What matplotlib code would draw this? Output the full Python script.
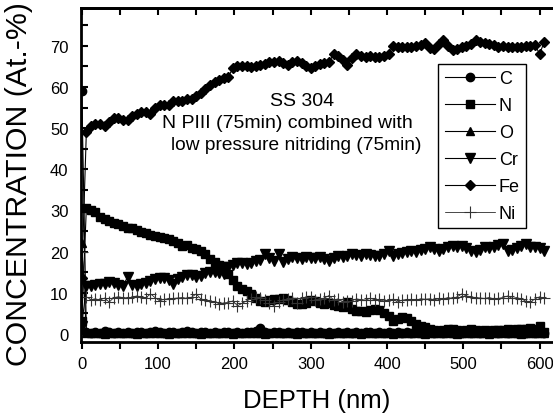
import matplotlib
matplotlib.use("Agg")
import matplotlib.pyplot as plt
from matplotlib.ticker import MultipleLocator

plt.rcParams['font.family'] = ['Liberation Sans', 'DejaVu Sans']

depth = [0, 6, 12, 18, 24, 30, 36, 42, 48, 54,
         60, 66, 72, 78, 84, 90, 96, 102, 108, 114,
         120, 126, 132, 138, 144, 150, 156, 162, 168, 174,
         180, 186, 192, 198, 204, 210, 216, 222, 228, 234,
         240, 246, 252, 258, 264, 270, 276, 282, 288, 294,
         300, 306, 312, 318, 324, 330, 336, 342, 348, 354,
         360, 366, 372, 378, 384, 390, 396, 402, 408, 414,
         420, 426, 432, 438, 444, 450, 456, 462, 468, 474,
         480, 486, 492, 498, 504, 510, 516, 522, 528, 534,
         540, 546, 552, 558, 564, 570, 576, 582, 588, 594,
         600, 606]

c_vals = [59, 0.5, 0.3, 0.4, 0.3, 0.6, 0.4, 0.3, 0.5, 0.3,
          0.4, 0.3, 0.5, 0.4, 0.3, 0.4, 0.6, 0.4, 0.3, 0.4,
          0.5, 0.3, 0.4, 0.7, 0.4, 0.3, 0.4, 0.5, 0.3, 0.4,
          0.3, 0.4, 0.5, 0.3, 0.4, 0.3, 0.5, 0.4, 0.6, 1.4,
          0.4, 0.3, 0.4, 0.5, 0.3, 0.4, 0.3, 0.4, 0.5, 0.3,
          0.4, 0.3, 0.4, 0.3, 0.5, 0.3, 0.4, 0.3, 0.4, 0.3,
          0.4, 0.3, 0.4, 0.5, 0.3, 0.4, 0.3, 0.4, 0.3, 0.4,
          0.3, 0.4, 0.3, 0.4, 0.3, 0.4, 0.5, 0.3, 0.4, 0.3,
          0.4, 0.3, 0.4, 0.3, 0.4, 0.3, 0.4, 0.3, 0.4, 0.3,
          0.4, 0.3, 0.4, 0.3, 0.4, 0.3, 0.4, 0.3, 0.4, 0.3,
          0.4, 0.3]

n_vals = [3, 30.5, 30, 29.5, 28.5, 27.8, 27.5, 27, 26.6, 26.2,
          25.8, 25.6, 25.2, 24.8, 24.5, 24, 23.8, 23.5, 23.2, 23,
          22.5, 22, 21.3, 21.5, 20.8, 20.5, 20.1, 19.5, 18.2, 17.5,
          16.8, 16.5, 14.5, 13, 11.5, 10.8, 10.3, 9.6, 8.8, 8,
          7.7, 8.2, 8.5, 8.4, 8.8, 8.3, 7.8, 7.3, 7.2, 7.6,
          8.2, 7.9, 7.5, 7.3, 7.5, 7, 6.8, 6.5, 7.7, 6,
          5.6, 5.5, 5.3, 5.7, 6, 5.9, 5, 4.3, 3.2, 3.5,
          4.1, 3.8, 3, 2.4, 2, 1.7, 1.2, 1, 0.7, 0.8,
          1.2, 1.2, 0.8, 0.7, 0.8, 1.2, 0.8, 0.7, 0.8, 0.7,
          0.8, 0.9, 1, 1.2, 1, 1.2, 1.1, 1.2, 1.3, 1.2,
          2, 0.5]

o_vals = [22, 0.2, 0.1, 0.2, 0.1, 0.0, 0.1, 0.2, 0.1, 0.1,
          0.2, 0.1, 0.0, 0.1, 0.2, 0.1, 0.1, 0.2, 0.1, 0.0,
          0.1, 0.2, 0.1, 0.1, 0.2, 0.1, 0.0, 0.1, 0.2, 0.1,
          0.1, 0.2, 0.1, 0.0, 0.1, 0.2, 0.1, 0.1, 0.2, 0.1,
          0.0, 0.1, 0.2, 0.1, 0.1, 0.2, 0.1, 0.0, 0.1, 0.2,
          0.1, 0.1, 0.2, 0.1, 0.0, 0.1, 0.2, 0.1, 0.1, 0.2,
          0.1, 0.0, 0.1, 0.2, 0.1, 0.1, 0.2, 0.1, 0.0, 0.1,
          0.2, 0.1, 0.1, 0.2, 0.1, 0.0, 0.1, 0.2, 0.1, 0.1,
          0.2, 0.1, 0.0, 0.1, 0.2, 0.1, 0.1, 0.2, 0.1, 0.0,
          0.1, 0.2, 0.1, 0.1, 0.2, 0.1, 0.0, 0.1, 0.2, 0.1,
          0.1, 0.2]

cr_vals = [2, 11.5, 11.6, 11.8, 12, 12.2, 12.5, 12.4, 11.8, 11.6,
           13.8, 11.8, 11.6, 12, 12.4, 12.8, 13.2, 13.6, 13.5, 13,
           12.2, 13.2, 13.8, 14.2, 14.3, 13.8, 14, 14.8, 15, 14.9,
           14.8, 14.6, 16.3, 16.8, 17.3, 17.2, 17, 17.3, 17.7, 18,
           19.3, 18.5, 17.7, 19.4, 17.4, 18.2, 18.6, 18.4, 18.2, 18.6,
           18.4, 18.5, 18.6, 18.3, 17.8, 18.5, 18.9, 18.6, 18.8, 19.4,
           19.2, 19, 19.3, 19.2, 19, 18.9, 19.4, 20.1, 18.9, 19.4,
           19.6, 19.8, 20.1, 20, 20.3, 20.6, 21, 20.5, 20.1, 20.6,
           21, 21.3, 21.2, 21.3, 20.8, 20.1, 19.9, 20.4, 21, 20.8,
           21, 21.5, 21.8, 20.1, 20.4, 20.8, 21.4, 21.8, 21.2, 21,
           20.8, 20.1]

fe_vals = [13.5, 49, 50.5, 51, 51, 50.5, 51.5, 52.5, 52.5, 52,
           52, 53, 53.5, 54, 54, 53.5, 55, 55.5, 55.7, 55.5,
           56.5, 56.5, 56.7, 57, 57, 57.7, 58.5, 59.5, 60.5, 61.3,
           61.7, 62.2, 62.5, 64.5, 65, 65, 65, 64.8, 65, 65.3,
           65.5, 66, 66, 66.2, 65.8, 65.4, 66, 66.4, 65.8, 65.2,
           64.6, 65.2, 65.5, 65.8, 66, 68, 67.5, 66.5, 65.4, 67,
           68, 67.6, 67.4, 67.5, 67.3, 67.4, 67.5, 68, 70, 69.8,
           69.6, 69.7, 69.8, 70, 70.3, 70.7, 69.5, 69.2, 70.5, 71.3,
           70, 69, 69.3, 69.6, 70, 70.5, 71.4, 71, 70.6, 70.4,
           70.2, 69.8, 70, 69.8, 69.8, 69.7, 69.8, 70, 70, 70.2,
           68, 71]

ni_vals = [20, 9, 8.3, 8.5, 8.2, 8.7, 7.7, 8.8, 9, 8.8,
           8.7, 8.9, 9.2, 9, 8.7, 9.7, 8.8, 8, 8.4, 8.5,
           8.6, 8.7, 8.8, 8.6, 8.9, 9.7, 8.5, 8.2, 8, 7.8,
           7.3, 7.5, 7.6, 8, 6.8, 7.4, 8, 8.5, 9, 8.6,
           8.2, 7.5, 6.8, 7.8, 8.3, 8.5, 8.7, 7.4, 8.6, 9,
           9, 8.3, 8.5, 8.7, 9.3, 8.2, 8.5, 7.8, 8, 8,
           8.5, 8.3, 8.2, 8.6, 8.3, 8.4, 7.9, 8.3, 8.4, 7.7,
           8.2, 8.3, 8.4, 8.2, 8.5, 8.4, 8.5, 8.3, 8.6, 8.5,
           8.8, 8.6, 9, 9.7, 9.2, 9, 8.8, 8.7, 8.6, 8.8,
           8.5, 8.6, 8.8, 9.2, 8.6, 8.8, 8.5, 7.9, 7.7, 8.5,
           9, 8.6]

labels = ['C', 'N', 'O', 'Cr', 'Fe', 'Ni']
annot_lines = ['SS 304', 'N PIII (75min) combined with',
               'low pressure nitriding (75min)']

fig = plt.figure(figsize=(5.53, 4.14), dpi=100)
ax = fig.add_axes([81/553, 71/414, 472/553, 334/414])

lw = 0.8
ax.plot(depth, c_vals, color='black', lw=lw, marker='o', ms=6, label=labels[0])
ax.plot(depth, n_vals, color='black', lw=lw, marker='s', ms=6, label=labels[1])
ax.plot(depth, o_vals, color='black', lw=lw, marker='^', ms=6, label=labels[2])
ax.plot(depth, cr_vals, color='black', lw=lw, marker='v', ms=7, label=labels[3])
ax.plot(depth, fe_vals, color='black', lw=lw, marker='D', ms=5.5, label=labels[4])
ax.plot(depth, ni_vals, color='black', lw=0.5, marker='+', ms=8, mew=0.8,
        mec='#333333', label=labels[5])

ax.set_xlim(-1, 617.5)
ax.set_ylim(-2, 79.2)
ax.xaxis.set_major_locator(MultipleLocator(100))
ax.xaxis.set_minor_locator(MultipleLocator(50))
ax.yaxis.set_major_locator(MultipleLocator(10))
ax.yaxis.set_minor_locator(MultipleLocator(5))

for s in ax.spines.values():
    s.set_linewidth(2)
ax.spines['right'].set_visible(False)

ax.tick_params(axis='x', which='both', direction='out', top=False, labelsize=12,
               width=1.5, length=5, pad=5)
ax.tick_params(axis='y', which='both', direction='in', right=False, labelsize=12,
               width=1.5, length=5, pad=9)

top = ax.secondary_xaxis('top')
top.xaxis.set_major_locator(MultipleLocator(100))
top.xaxis.set_minor_locator(MultipleLocator(50))
top.tick_params(axis='x', which='both', direction='in', width=1.5, length=5,
                labeltop=False)
top.spines['top'].set_linewidth(2)

ax.set_xlabel('DEPTH (nm)', fontsize=18.5, labelpad=12)
ax.set_ylabel('CONCENTRATION (At.-%)', fontsize=21.8)
ax.yaxis.set_label_coords(-0.102, 0.476)

ax.text(0.468, 0.722, annot_lines[0], transform=ax.transAxes, ha='center',
        va='center', fontsize=14)
ax.text(0.438, 0.656, annot_lines[1], transform=ax.transAxes, ha='center',
        va='center', fontsize=14)
ax.text(0.455, 0.590, annot_lines[2], transform=ax.transAxes, ha='center',
        va='center', fontsize=13.8)

leg = ax.legend(loc='upper right', bbox_to_anchor=(0.943, 0.832),
                borderaxespad=0, fontsize=13, handlelength=2.8,
                handletextpad=0.2, labelspacing=0.55, borderpad=0.35,
                fancybox=False, framealpha=1, edgecolor='black')
leg.get_frame().set_linewidth(1)

fig.savefig('out.png', dpi=100)
